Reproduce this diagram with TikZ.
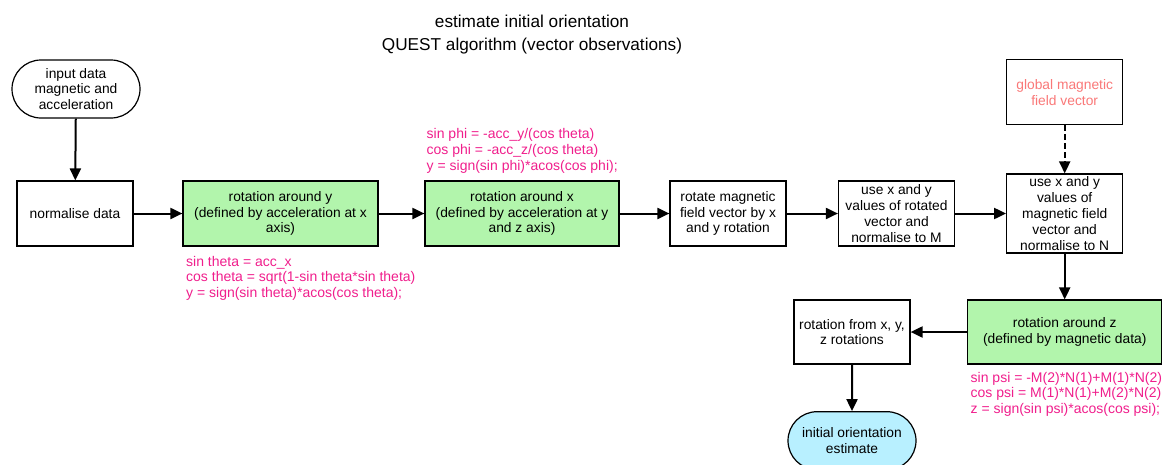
\documentclass[tikz,border=0pt]{standalone}
\usepackage{fontspec}
\setmainfont{Liberation Sans}
\usetikzlibrary{arrows.meta,shapes.misc}
\definecolor{boxgreen}{RGB}{178,245,172}
\definecolor{termcyan}{RGB}{184,240,255}
\definecolor{annopink}{RGB}{240,30,140}
\definecolor{salmon}{RGB}{250,120,120}
\tikzset{
  box/.style={draw=black, line width=1.2pt, fill=white, inner sep=0pt, align=center,
    font=\fontsize{13.8}{15.8}\selectfont},
  greenbox/.style={box, fill=boxgreen},
  term/.style={box, rounded rectangle},
  anno/.style={anchor=north west, inner sep=0pt, align=left, text=annopink,
    font=\fontsize{14}{15.6}\selectfont},
  arr/.style={line width=2pt, -{Triangle[length=12pt,width=11pt]}},
}
\begin{document}
\begin{tikzpicture}[x=1pt,y=-1pt]
\useasboundingbox (0,0) rectangle (1162,464);
\node[align=center, font=\fontsize{17.2}{23}\selectfont] (title) at (532,35)
  {estimate initial orientation\\QUEST algorithm (vector observations)};

\node[term, minimum width=128, minimum height=58] (input) at (76,89)
  {input data\\magnetic and\\acceleration};
\node[box, minimum width=116, minimum height=65] (norm) at (75,213.5) {normalise data};
\node[greenbox, minimum width=195, minimum height=65] (roty) at (280.5,213.5)
  {rotation around y\\(defined by acceleration at x\\axis)};
\node[greenbox, minimum width=194, minimum height=65] (rotx) at (522,213.5)
  {rotation around x\\(defined by acceleration at y\\and z axis)};
\node[box, minimum width=116, minimum height=65] (rotmag) at (728,213.5)
  {rotate magnetic\\field vector by x\\and y rotation};
\node[box, minimum width=116, minimum height=65] (useM) at (896.5,213.5)
  {use x and y\\values of rotated\\vector and\\normalise to M};
\node[box, minimum width=116, minimum height=79] (useN) at (1064.7,213.5)
  {use x and y\\values of\\magnetic field\\vector and\\normalise to N};
\node[box, minimum width=116, minimum height=65, text=salmon] (glob) at (1064.7,92.3)
  {global magnetic\\field vector};
\node[greenbox, minimum width=194, minimum height=64] (rotz) at (1064.7,332)
  {rotation around z\\(defined by magnetic data)};
\node[box, minimum width=116, minimum height=64] (rotfrom) at (852,332)
  {rotation from x, y,\\z rotations};
\node[term, fill=termcyan, minimum width=128, minimum height=58] (est) at (852,440.7)
  {initial orientation\\estimate};

\node[anno] (annoth) at (186,256)
  {sin theta = acc\_x\\cos theta = sqrt(1-sin theta*sin theta)\\y = sign(sin theta)*acos(cos theta);};
\node[anno] (annophi) at (426.5,128.5)
  {sin phi = -acc\_y/(cos theta)\\cos phi = -acc\_z/(cos theta)\\y = sign(sin phi)*acos(cos phi);};
\node[anno] (annopsi) at (970.5,372)
  {sin psi = -M(2)*N(1)+M(1)*N(2)\\cos psi = M(1)*N(1)+M(2)*N(2)\\z = sign(sin psi)*acos(cos psi);};

\draw[arr] (input) -- (norm);
\draw[arr] (norm) -- (roty);
\draw[arr] (roty) -- (rotx);
\draw[arr] (rotx) -- (rotmag);
\draw[arr] (rotmag) -- (useM);
\draw[arr] (useM) -- (useN);
\draw[arr, dash pattern=on 6pt off 3pt] (glob) -- (useN);
\draw[arr] (useN) -- (rotz);
\draw[arr] (rotz) -- (rotfrom);
\draw[arr] (rotfrom) -- (est);
\end{tikzpicture}
\end{document}
